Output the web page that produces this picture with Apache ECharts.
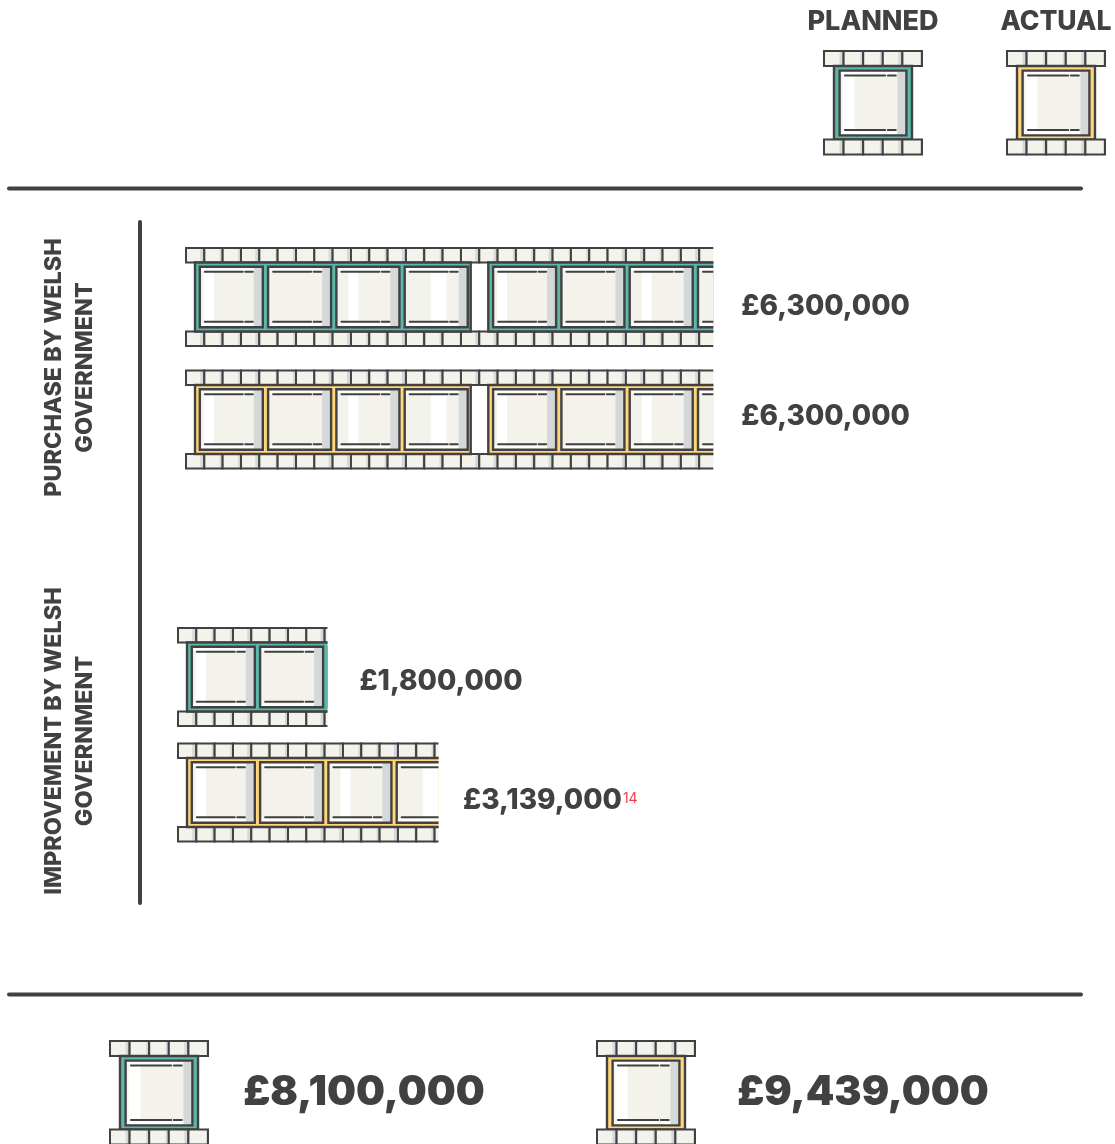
<!DOCTYPE html>
<html>
<head>
<meta charset="utf-8">
<title>Planned and actual spend</title>
<script src="https://cdn.jsdelivr.net/npm/echarts@6/dist/echarts.min.js"></script>
<style>
  html, body { margin: 0; padding: 0; background: #fff; }
  #chart { width: 1115px; height: 1144px; }
</style>
</head>
<body>
<div id="chart"></div>
<script>
(() => {
  "use strict";

  const categories = ["PURCHASE BY WELSH\nGOVERNMENT", "IMPROVEMENT BY WELSH\nGOVERNMENT"];
  const scenarios = ["PLANNED", "ACTUAL"];
  const plannedValues = [6300000, 1800000];
  const actualValues = [6300000, 3139000];
  const actualFootnotes = ["", "14"];

  const DARK = "#414042";
  const CREAM = "#f3f2eb";
  const SHADE = "#d5d8d8";
  const TEAL = "#5cb8a8";
  const YELLOW = "#ffd679";
  const FONT = "Inter, 'Noto Sans', sans-serif";

  // film strip drawn at 1 frame = 68.3px, 16 sprockets + gap for each block of 4
  const SPROCKET = 18.33;
  const FRAME_PITCH = 68.3;
  const BLOCK_PITCH = 293.3;
  const FILM_HEIGHT = 98;
  // white glare inside each frame [from, to], repeats per block
  const GLARE = [[4, 14], null, [12, 22], [26, 42]];
  const SHADE_W = [4, 3, 3, 4, 2, 3, 0, 4];

  const rect = (x, y, width, height, fill, stroke, lineWidth) => ({
    type: "rect",
    shape: { x, y, width, height },
    style: { fill: fill || "none", stroke: stroke || "none", lineWidth: lineWidth || 0 }
  });

  const dash = (x1, x2, y) => ({
    type: "line",
    shape: { x1, y1: y, x2, y2: y },
    style: { stroke: DARK, lineWidth: 2, lineCap: "round" }
  });

  function sprockets(x, y, count, pitch, height) {
    const out = [];
    for (let i = 0; i < count; i++) {
      const cx = x + i * pitch;
      const w = SHADE_W[i % SHADE_W.length];
      out.push(rect(cx, y, pitch, height, CREAM));
      if (w) out.push(rect(cx + pitch - w, y, w, height, SHADE));
      out.push(rect(cx, y, pitch, height, null, DARK, 2));
    }
    return out;
  }

  function frame(x, y, w, h, glare, k) {
    const out = [rect(x, y, w, h, CREAM)];
    out.push(rect(x + 1, y + 1, w - 2, 3, "#fff"), rect(x + 1, y + h - 4, w - 2, 3, "#fff"));
    if (glare) out.push(rect(x + glare[0], y + 1, glare[1] - glare[0], h - 2, "#fff"));
    out.push(rect(x + w - 9, y + 1, 8, h - 2, SHADE));
    out.push(rect(x, y, w, h, null, DARK, 2.4));
    out.push(dash(x + 5 * k, x + 43 * k, y + 5), dash(x + 45.5 * k, x + 53 * k, y + 5));
    out.push(dash(x + 5 * k, x + 43 * k, y + h - 5.5), dash(x + 45.5 * k, x + 53 * k, y + h - 5.5));
    return out;
  }

  // one frame with its sprockets, used in the legend and the totals row
  function icon(x, y, color) {
    return {
      type: "group",
      silent: true,
      children: [
        ...sprockets(x, y, 5, 19.6, 15),
        rect(x + 10, y + 15, 78, 73.5, color, DARK, 2.4),
        ...frame(x + 15.6, y + 19.6, 66.8, 64.8, [3, 15], 1.06),
        ...sprockets(x, y + 88.5, 5, 19.6, 15)
      ]
    };
  }

  function film(x, top, width, color) {
    const children = [];
    const count = Math.ceil(width / SPROCKET) + 1;
    children.push(...sprockets(x, top, count, SPROCKET, 14.5));
    children.push(...sprockets(x, top + 83.5, count, SPROCKET, 14.5));
    const blockW = 275.7;
    const blockH = 69;
    for (let b = 0; b * BLOCK_PITCH < width; b++) {
      const bx = x + 9 + b * BLOCK_PITCH;
      children.push(rect(bx, top + 14.5, blockW, blockH, color, DARK, 2.4));
      for (let f = 0; f < 4; f++) {
        children.push(...frame(bx + 4.8 + f * FRAME_PITCH, top + 18.8, 63, 60.4, GLARE[f], 1));
      }
    }
    return children;
  }

  function filmSeries(grid, name, values, color, footnotes, labelDx, labelDy) {
    return {
      type: "custom",
      name,
      xAxisIndex: grid,
      yAxisIndex: grid,
      clip: false,
      silent: true,
      data: [[values[grid], name]],
      renderItem(params, api) {
        const start = api.coord([0, api.value(1)]);
        const end = api.coord([api.value(0), api.value(1)]);
        const width = end[0] - start[0];
        const top = start[1] - FILM_HEIGHT / 2;
        const note = footnotes[grid];
        const amount = "£" + api.value(0).toLocaleString("en-GB");
        return {
          type: "group",
          children: [
            {
              type: "group",
              clipPath: { type: "rect", shape: { x: start[0] - 2, y: top - 2, width: width + 2, height: FILM_HEIGHT + 4 } },
              children: film(start[0], top, width, color)
            },
            {
              type: "text",
              x: end[0] + labelDx,
              y: start[1] + labelDy,
              style: {
                text: note ? `{v|${amount}}{s|${note}}` : `{v|${amount}}`,
                verticalAlign: "middle",
                rich: {
                  v: { font: `800 28px ${FONT}`, fill: DARK },
                  s: { font: `400 14px ${FONT}`, fill: "#ef4050", padding: [0, 0, 4, 1] }
                }
              }
            }
          ]
        };
      }
    };
  }

  const sum = (list) => list.reduce((a, b) => a + b, 0);
  const money = (v) => "£" + v.toLocaleString("en-GB");

  const axisOff = { show: false };
  const grids = [
    { left: 186, top: 235.75, width: 837, height: 245 },
    { left: 178, top: 619.25, width: 830, height: 231 }
  ];

  const rule = (x1, y1, x2, y2) => ({
    type: "line",
    silent: true,
    shape: { x1, y1, x2, y2 },
    style: { stroke: DARK, lineWidth: 4, lineCap: "round" }
  });

  const label = (x, y, text, font, extra) => ({
    type: "text",
    silent: true,
    x,
    y,
    ...extra,
    style: { text, font, fill: DARK, textAlign: "center", verticalAlign: "middle", lineHeight: 31 }
  });

  const chart = echarts.init(document.getElementById("chart"), null, { renderer: "canvas" });
  chart.setOption({
    animation: false,
    backgroundColor: "#fff",
    grid: grids,
    xAxis: grids.map((_, i) => ({ type: "value", gridIndex: i, min: 0, max: 10000000, ...axisOff })),
    yAxis: grids.map((_, i) => ({ type: "category", gridIndex: i, inverse: true, data: scenarios, ...axisOff })),
    series: [
      filmSeries(0, scenarios[0], plannedValues, TEAL, ["", ""], 28, 10),
      filmSeries(0, scenarios[1], actualValues, YELLOW, ["", ""], 28, -2.5),
      filmSeries(1, scenarios[0], plannedValues, TEAL, ["", ""], 32, 5),
      filmSeries(1, scenarios[1], actualValues, YELLOW, actualFootnotes, 24.5, 8.5)
    ],
    graphic: [
      rule(9, 188.5, 1081, 188.5),
      rule(9, 994.5, 1081, 994.5),
      rule(140, 222, 140, 903),
      label(873, 22, scenarios[0], `800 27px ${FONT}`),
      label(1056, 22, scenarios[1], `800 26.5px ${FONT}`),
      icon(824, 51, TEAL),
      icon(1007, 51, YELLOW),
      label(69.5, 367.5, categories[0], `800 23.4px ${FONT}`, { rotation: Math.PI / 2 }),
      label(69.5, 741, categories[1], `800 23.4px ${FONT}`, { rotation: Math.PI / 2 }),
      icon(110, 1041, TEAL),
      icon(597, 1041, YELLOW),
      label(364, 1093, money(sum(plannedValues)), `900 40.8px ${FONT}`),
      label(863, 1093, money(sum(actualValues)), `900 40.8px ${FONT}`)
    ]
  });
})();
</script>
</body>
</html>
